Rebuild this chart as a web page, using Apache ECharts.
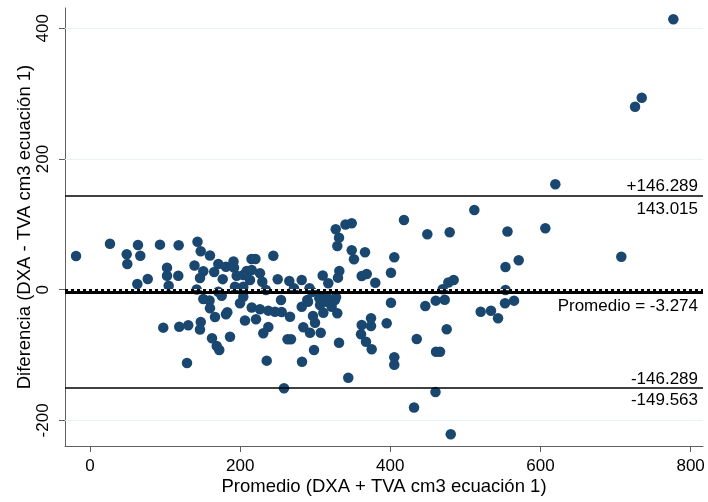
<!DOCTYPE html>
<html>
<head>
<meta charset="utf-8">
<script src="https://cdn.jsdelivr.net/npm/echarts@6/dist/echarts.min.js"></script>
<style>
  html, body { margin: 0; padding: 0; background: #ffffff; }
  #chart { width: 708px; height: 502px; }
</style>
</head>
<body>
<div id="chart"></div>
<script>
// Bland-Altman: promedio (x) y diferencia (y) de DXA y TVA, cm3 (ecuación 1)
const promedio = [
  -18.6, 26.6, 48.9, 49.7, 63.9, 67.0, 93.2, 118.1, 102.6, 102.6,
  117.6, 104.8, 76.9, 63.0, 97.6, 118.9, 130.9, 129.2, 143.2, 147.5,
  159.8, 139.2, 150.9, 146.5, 165.4, 170.9, 181.1, 191.1, 191.8, 176.8,
  195.4, 193.1, 204.2, 208.7, 215.1, 220.4, 215.4, 226.4, 213.1, 229.5,
  234.4, 204.2, 204.2, 142.1, 150.9, 159.2, 170.9, 175.4, 159.8, 166.5,
  181.1, 182.9, 162.5, 168.8, 172.2, 186.5, 147.5, 146.5, 215.4, 226.4,
  237.5, 246.4, 255.3, 266.4, 206.4, 221.1, 199.8, 254.4, 230.8, 237.5,
  263.1, 267.7, 284.1, 293.0, 297.0, 299.7, 307.3, 282.0, 290.4, 306.4,
  310.8, 315.3, 326.3, 329.4, 331.7, 298.4, 235.4, 282.4, 344.0, 258.4,
  361.9, 374.3, 374.3, 361.0, 367.6, 375.2, 395.2, 400.9, 405.3, 405.3,
  435.2, 446.6, 431.6, 244.2, 250.0, 265.5, 271.7, 282.0, 292.4, 295.7,
  289.4, 305.4, 315.3, 327.7, 321.9, 310.0, 317.4, 332.1, 330.3, 327.3,
  340.3, 348.6, 331.7, 329.4, 348.6, 351.6, 366.3, 405.3, 418.2, 449.3,
  400.9, 361.9, 368.6, 380.0, 511.9, 479.1, 556.1, 606.5, 553.4, 571.0,
  484.4, 477.3, 469.8, 553.4, 460.5, 472.5, 552.8, 564.8, 520.4, 534.1,
  543.5, 475.1, 460.9, 466.2, 460.2, 480.5, 619.8, 707.7, 777.0, 734.9,
  726.0
];
const diferencia = [
  51.6, 70.4, 54.2, 39.3, 68.4, 52.0, 68.9, 67.9, 33.7, 21.4,
  21.4, 6.1, 16.4, 8.7, -58.1, -56.6, -54.5, -112.2, 73.4, 58.8,
  52.3, 37.0, 28.2, 17.9, 27.1, 39.3, 35.2, 43.1, 33.7, 16.1,
  21.4, 4.6, 22.5, 28.6, 47.0, 47.0, 30.1, 25.1, 14.8, 12.2,
  -0.5, 4.6, -10.7, 0.3, -14.2, -16.5, -3.1, -9.2, -28.5, -41.8,
  -37.6, -34.6, -74.4, -86.1, -92.3, -71.9, -49.4, -60.9, -27.2, -30.0,
  -32.1, -33.7, -34.1, -41.3, -47.1, -45.3, -20.8, -15.8, -66.7, -57.1,
  -75.9, -75.9, -57.5, -65.8, -40.2, -50.5, -65.8, -26.0, -18.4, -23.4,
  -35.2, -18.4, -15.8, -36.1, -81.1, -92.3, -108.6, -110.2, -134.7, -150.9,
  -54.0, -43.8, -55.5, -68.1, -79.6, -91.2, -51.4, -19.9, -103.4, -114.9,
  -75.4, -24.9, -180.3, 52.0, 15.9, 13.3, 2.1, 14.8, 2.1, -3.5,
  -15.8, -13.2, -10.7, -11.6, -26.0, 21.7, 9.8, 28.6, 18.4, 92.4,
  99.8, 101.6, 79.6, 66.9, 60.3, 46.5, 57.2, 49.6, 106.6, 84.8,
  26.0, 21.0, 24.0, 10.7, 122.0, 87.8, 89.1, 94.0, 34.7, 45.1,
  14.8, 11.0, 0.6, -0.5, -16.8, -15.3, -20.8, -16.8, -33.7, -32.3,
  -43.8, -60.6, -94.9, -94.9, -156.5, -221.1, 161.3, 50.5, 413.7, 293.8,
  280.0
];

const xTicks = [0, 200, 400, 600, 800];
const yTicks = [-200, 0, 200, 400];

// Media de las diferencias y 1.96 DE
const media = -3.274;
const semiAmplitud = 146.289;
const limSup = +(media + semiAmplitud).toFixed(3);
const limInf = +(media - semiAmplitud).toFixed(3);
const f3 = v => v.toFixed(3);

const FONT = '"Liberation Sans", Arial, sans-serif';
const TXT = { color: '#000', fontFamily: FONT, fontSize: 17 };
const AXIS_COL = '#5f5f5f';

const puntos = promedio.map((x, i) => [x, diferencia[i]]);

// Línea horizontal de referencia con su rótulo a la derecha
function lineaRef(y, width, type, text, pos, visible, vdist) {
  return {
    yAxis: y,
    lineStyle: { color: visible ? '#000' : 'rgba(0,0,0,0)', width: width, type: type },
    label: text ? Object.assign({ show: true, formatter: text, position: pos, distance: [5, vdist] }, TXT)
                : { show: false }
  };
}

const chart = echarts.init(document.getElementById('chart'), null, { renderer: 'canvas' });
chart.setOption({
  animation: false,
  backgroundColor: '#ffffff',
  grid: { left: 65, right: 5, top: 8, bottom: 56, containLabel: false },
  xAxis: {
    type: 'value',
    min: -33.3, max: 816.5,
    name: 'Promedio (DXA + TVA cm3 ecuación 1)',
    nameLocation: 'middle', nameGap: 31, nameMoveOverlap: false,
    nameTextStyle: Object.assign({}, TXT, { fontSize: 18.5 }),
    axisLine: { show: true, onZero: false, lineStyle: { color: AXIS_COL, width: 1 } },
    axisTick: { show: true, length: 6, customValues: xTicks, lineStyle: { color: AXIS_COL } },
    axisLabel: Object.assign({ margin: 12, customValues: xTicks }, TXT),
    splitLine: { show: false }
  },
  yAxis: {
    type: 'value',
    min: -239.2, max: 431,
    name: 'Diferencia (DXA - TVA cm3 ecuación 1)',
    nameLocation: 'middle', nameGap: 31, nameRotate: 90, nameMoveOverlap: false,
    nameTextStyle: Object.assign({}, TXT, { fontSize: 18.5 }),
    axisLine: { show: true, onZero: false, lineStyle: { color: AXIS_COL, width: 1 } },
    axisTick: { show: true, length: 6, customValues: yTicks, lineStyle: { color: AXIS_COL } },
    axisLabel: Object.assign({ margin: 13, rotate: 90, customValues: yTicks }, TXT),
    splitLine: { show: false }
  },
  series: [
    {
      // líneas de rejilla
      type: 'scatter', data: [], z: 1, silent: true,
      markLine: {
        silent: true, symbol: 'none', animation: false,
        label: { show: false },
        lineStyle: { color: '#eaf1f3', width: 1.2, type: 'solid' },
        data: yTicks.map(v => ({ yAxis: v }))
      }
    },
    {
      name: 'Diferencia',
      type: 'scatter',
      z: 3,
      symbol: 'circle',
      symbolSize: 10.5,
      itemStyle: { color: '#1a476f', opacity: 1 },
      data: puntos
    },
    {
      // media y límites de concordancia
      type: 'scatter', data: [], z: 4, silent: true,
      markLine: {
        silent: true, symbol: 'none', animation: false,
        data: [
          lineaRef(limSup, 1.5, 'solid', '+' + f3(semiAmplitud), 'insideEndTop', true, 1),
          lineaRef(limSup, 1.5, 'solid', f3(limSup), 'insideEndBottom', false, 5),
          lineaRef(media, 3, 'solid', 'Promedio = ' + f3(media), 'insideEndBottom', true, 6),
          lineaRef(0, 2, [3, 3], null, null, true, 0),
          lineaRef(limInf, 1.5, 'solid', '-' + f3(semiAmplitud), 'insideEndTop', true, 0),
          lineaRef(limInf, 1.5, 'solid', f3(limInf), 'insideEndBottom', false, 4)
        ]
      }
    }
  ]
});
</script>
</body>
</html>
